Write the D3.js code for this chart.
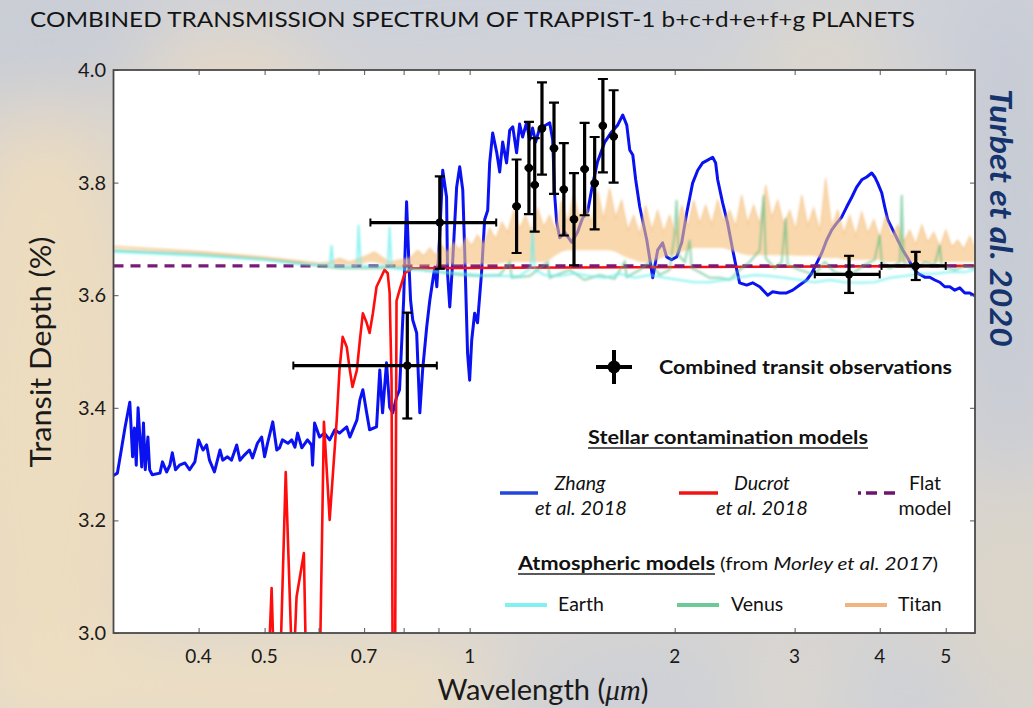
<!DOCTYPE html>
<html>
<head>
<meta charset="utf-8">
<script src="https://cdn.jsdelivr.net/npm/d3@7"></script>
<style>
  html, body { margin: 0; padding: 0; background: #d6d4d2; }
  svg { display: block; }
  text { font-family: Lato, "Open Sans", sans-serif; }
</style>
</head>
<body>
<svg id="chart" width="1033" height="708"></svg>
<script>
// ---------------- data ----------------
// Zhang et al. 2018 stellar contamination model (wavelength in µm, transit depth in %)
const zhangWave = [0.299,0.304,0.308,0.312,0.317,0.320,0.322,0.324,0.326,0.330,
  0.332,0.334,0.337,0.339,0.342,0.351,0.354,0.359,0.363,0.366,
  0.370,0.375,0.382,0.388,0.395,0.400,0.406,0.411,0.415,0.422,
  0.430,0.434,0.441,0.447,0.455,0.460,0.467,0.475,0.480,0.488,
  0.495,0.500,0.505,0.514,0.521,0.526,0.531,0.541,0.548,0.554,
  0.559,0.567,0.578,0.586,0.588,0.592,0.602,0.612,0.623,0.634,
  0.644,0.660,0.667,0.683,0.690,0.697,0.706,0.713,0.730,0.738,
  0.745,0.755,0.763,0.771,0.781,0.789,0.800,0.808,0.814,0.819,
  0.825,0.836,0.845,0.853,0.865,0.874,0.883,0.889,0.895,0.904,
  0.913,0.925,0.928,0.935,0.944,0.957,0.967,0.977,0.983,0.993,
  1.000,1.007,1.017,1.027,1.041,1.052,1.063,1.070,1.081,1.096,
  1.107,1.118,1.133,1.145,1.157,1.172,1.184,1.196,1.212,1.225,
  1.237,1.250,1.267,1.289,1.311,1.324,1.333,1.342,1.356,1.379,
  1.412,1.440,1.465,1.490,1.515,1.541,1.579,1.616,1.649,1.678,
  1.701,1.718,1.736,1.753,1.777,1.820,1.857,1.888,1.920,1.946,
  1.979,2.013,2.048,2.083,2.125,2.162,2.198,2.236,2.274,2.297,
  2.313,2.352,2.392,2.434,2.467,2.491,2.551,2.603,2.666,2.739,
  2.785,2.852,2.920,2.981,3.052,3.125,3.178,3.233,3.288,3.344,
  3.401,3.459,3.518,3.578,3.639,3.700,3.764,3.828,3.893,3.933,
  3.973,4.027,4.068,4.110,4.180,4.251,4.324,4.397,4.472,4.548,
  4.658,4.737,4.818,4.900,4.984,5.069,5.156,5.243,5.333,5.424,
  5.517];
const zhangDepth = [3.279,3.284,3.325,3.366,3.410,3.313,3.364,3.298,3.400,3.295,
  3.373,3.290,3.348,3.290,3.281,3.284,3.304,3.286,3.298,3.320,
  3.290,3.298,3.302,3.290,3.304,3.343,3.325,3.334,3.307,3.286,
  3.325,3.307,3.313,3.307,3.334,3.307,3.316,3.325,3.311,3.337,
  3.348,3.313,3.337,3.375,3.325,3.329,3.343,3.337,3.343,3.330,
  3.355,3.329,3.343,3.334,3.298,3.373,3.348,3.355,3.343,3.361,
  3.355,3.366,3.348,3.378,3.414,3.432,3.391,3.361,3.366,3.467,
  3.391,3.480,3.401,3.391,3.419,3.432,3.591,3.766,3.663,3.591,
  3.556,3.533,3.391,3.467,3.544,3.591,3.627,3.650,3.615,3.710,
  3.822,3.774,3.639,3.579,3.657,3.792,3.828,3.787,3.686,3.497,
  3.449,3.520,3.568,3.551,3.639,3.734,3.751,3.835,3.888,3.853,
  3.819,3.872,3.835,3.893,3.899,3.853,3.904,3.881,3.906,3.876,
  3.897,3.872,3.897,3.901,3.906,3.876,3.778,3.730,3.702,3.712,
  3.694,3.712,3.737,3.748,3.796,3.837,3.872,3.890,3.902,3.920,
  3.902,3.858,3.849,3.805,3.757,3.698,3.631,3.680,3.693,3.668,
  3.663,3.668,3.693,3.746,3.799,3.822,3.835,3.840,3.845,3.835,
  3.805,3.764,3.728,3.680,3.645,3.622,3.618,3.622,3.615,3.600,
  3.606,3.604,3.604,3.609,3.618,3.627,3.639,3.657,3.675,3.698,
  3.716,3.728,3.739,3.757,3.774,3.792,3.805,3.810,3.817,3.810,
  3.799,3.782,3.757,3.734,3.716,3.698,3.680,3.666,3.650,3.639,
  3.632,3.632,3.627,3.623,3.615,3.615,3.609,3.613,3.604,3.604,
  3.599];

// Ducrot et al. 2018 stellar contamination model (values below 3.0 run off the axis)
const ducrotWave = [0.500,0.507,0.512,0.517,0.526,0.537,0.550,0.557,0.571,0.576,
  0.602,0.611,0.623,0.638,0.644,0.651,0.660,0.667,0.673,0.683,
  0.690,0.697,0.706,0.713,0.721,0.730,0.738,0.750,0.758,0.763,
  0.768,0.771,0.777,0.781,0.789,0.803,0.825,5.520];
const ducrotDepth = [2.90,2.95,3.080,2.90,2.90,3.286,2.90,3.064,3.142,2.90,
  2.90,3.375,3.201,3.378,3.467,3.526,3.508,3.467,3.437,3.467,
  3.520,3.568,3.551,3.533,3.568,3.615,3.627,3.645,3.639,3.604,
  3.449,2.90,2.90,3.590,3.609,3.639,3.648,3.652];

// flat (featureless) model
const flatWave = [0.30, 5.52];
const flatDepth = [3.652, 3.652];

// Atmospheric models (Morley et al. 2017): Titan shown as a spiky band (low / high)
const titanWave = [0.300,0.400,0.500,0.563,0.602,0.623,0.644,0.667,0.690,0.708,
  0.725,0.743,0.763,0.789,0.817,0.839,0.856,0.874,0.892,0.910,
  0.928,0.947,0.967,0.987,1.007,1.027,1.048,1.070,1.092,1.115,
  1.137,1.161,1.184,1.208,1.233,1.258,1.284,1.311,1.338,1.365,
  1.393,1.421,1.450,1.480,1.510,1.541,1.573,1.605,1.638,1.672,
  1.707,1.741,1.777,1.813,1.851,1.888,1.927,1.966,2.006,2.048,
  2.090,2.133,2.176,2.221,2.266,2.313,2.360,2.409,2.458,2.508,
  2.559,2.612,2.666,2.721,2.776,2.833,2.891,2.951,3.011,3.073,
  3.136,3.200,3.266,3.332,3.401,3.471,3.542,3.614,3.688,3.764,
  3.841,3.920,4.000,4.082,4.166,4.251,4.338,4.427,4.519,4.611,
  4.706,4.802,4.900,5.001,5.103,5.209,5.315,5.424,5.520];
const titanLow = [3.684,3.675,3.664,3.657,3.654,3.654,3.654,3.654,3.654,3.659,
  3.659,3.655,3.652,3.652,3.652,3.652,3.652,3.652,3.652,3.654,
  3.654,3.654,3.654,3.655,3.655,3.655,3.655,3.655,3.655,3.657,
  3.659,3.659,3.659,3.659,3.659,3.659,3.659,3.663,3.671,3.677,
  3.680,3.680,3.680,3.680,3.680,3.680,3.680,3.680,3.677,3.671,
  3.666,3.663,3.659,3.659,3.659,3.663,3.668,3.671,3.671,3.677,
  3.680,3.684,3.684,3.684,3.684,3.684,3.684,3.680,3.677,3.673,
  3.671,3.671,3.671,3.671,3.671,3.671,3.671,3.671,3.670,3.670,
  3.670,3.670,3.666,3.666,3.666,3.666,3.663,3.663,3.663,3.663,
  3.663,3.663,3.663,3.659,3.659,3.659,3.659,3.659,3.659,3.659,
  3.659,3.659,3.659,3.659,3.659,3.659,3.659,3.659,3.659];
const titanHigh = [3.687,3.678,3.668,3.661,3.657,3.659,3.666,3.659,3.666,3.671,
  3.677,3.668,3.659,3.663,3.666,3.680,3.670,3.684,3.671,3.689,
  3.676,3.694,3.680,3.702,3.688,3.707,3.690,3.719,3.700,3.730,
  3.712,3.751,3.718,3.742,3.712,3.755,3.722,3.742,3.715,3.769,
  3.730,3.778,3.738,3.760,3.728,3.786,3.735,3.790,3.738,3.769,
  3.716,3.742,3.708,3.760,3.716,3.751,3.712,3.742,3.708,3.760,
  3.722,3.769,3.728,3.760,3.726,3.769,3.732,3.751,3.722,3.778,
  3.728,3.760,3.726,3.796,3.738,3.769,3.726,3.751,3.716,3.778,
  3.724,3.755,3.714,3.808,3.720,3.751,3.710,3.742,3.706,3.748,
  3.710,3.734,3.702,3.742,3.704,3.725,3.695,3.716,3.690,3.725,
  3.694,3.712,3.686,3.716,3.686,3.698,3.682,3.705,3.684];

const venusWave = [0.300,0.400,0.500,0.563,0.602,0.644,0.690,0.738,0.789,0.845,
  0.904,0.967,1.034,1.107,1.145,1.153,1.225,1.302,1.311,1.402,
  1.475,1.552,1.632,1.689,1.701,1.777,1.838,1.901,1.966,1.999,
  2.013,2.027,2.069,2.104,2.118,2.176,2.251,2.328,2.409,2.491,
  2.577,2.666,2.702,2.721,2.804,2.872,2.910,2.930,3.052,3.211,
  3.322,3.436,3.554,3.676,3.802,3.933,4.000,4.027,4.138,4.280,
  4.309,4.338,4.503,4.658,4.818,4.900,4.933,5.156,5.333,5.520];
const venusDepth = [3.680,3.673,3.664,3.657,3.652,3.648,3.648,3.648,3.650,3.645,
  3.641,3.636,3.634,3.636,3.659,3.631,3.634,3.659,3.631,3.645,
  3.627,3.636,3.629,3.659,3.632,3.645,3.659,3.636,3.645,3.707,
  3.769,3.671,3.659,3.698,3.648,3.641,3.631,3.631,3.627,3.645,
  3.659,3.680,3.778,3.666,3.648,3.659,3.737,3.654,3.645,3.636,
  3.659,3.641,3.636,3.641,3.654,3.663,3.707,3.659,3.648,3.659,
  3.778,3.659,3.645,3.659,3.654,3.689,3.652,3.645,3.652,3.648];

const earthWave = [0.300,0.400,0.500,0.563,0.602,0.623,0.627,0.631,0.655,0.683,
  0.687,0.692,0.725,0.758,0.763,0.768,0.803,0.845,0.904,0.967,
  1.034,1.107,1.184,1.229,1.237,1.246,1.289,1.356,1.426,1.500,
  1.579,1.661,1.747,1.838,1.934,2.034,2.140,2.251,2.368,2.491,
  2.621,2.757,2.901,3.052,3.211,3.378,3.554,3.739,3.933,4.138,
  4.353,4.580,4.818,5.069,5.333,5.520];
const earthDepth = [3.677,3.670,3.663,3.655,3.654,3.654,3.689,3.652,3.652,3.652,
  3.725,3.652,3.652,3.652,3.721,3.648,3.645,3.645,3.641,3.639,
  3.636,3.634,3.634,3.648,3.719,3.645,3.636,3.634,3.639,3.634,
  3.631,3.638,3.631,3.636,3.631,3.627,3.623,3.623,3.627,3.632,
  3.636,3.634,3.631,3.627,3.623,3.627,3.623,3.622,3.623,3.631,
  3.634,3.638,3.638,3.641,3.641,3.645];

// Combined transit observations (wavelength, bin edges, depth, 1-sigma error)
const obsWave  = [0.810,0.904,1.172,1.222,1.246,1.277,1.330,1.375,1.423,1.475,1.526,1.569,1.627,3.606,4.518];
const obsWaveLo = [0.551,0.715,1.155,1.204,1.228,1.259,1.311,1.356,1.403,1.454,1.505,1.547,1.604,3.212,4.024];
const obsWaveHi = [0.895,1.094,1.189,1.240,1.264,1.295,1.349,1.394,1.443,1.496,1.547,1.591,1.650,4.000,5.000];
const obsDepth = [3.475,3.729,3.758,3.826,3.796,3.896,3.861,3.788,3.735,3.824,3.799,3.901,3.882,3.637,3.652];
const obsErr   = [0.094,0.082,0.083,0.082,0.083,0.082,0.081,0.082,0.082,0.082,0.082,0.083,0.082,0.033,0.025];

// axis ticks
const xTicks = [0.4,0.5,0.6,0.7,0.8,0.9,1,2,3,4,5];
const xTickLabels = ["0.4","0.5","","0.7","","","1","2","3","4","5"];
const yTicks = [3.0,3.2,3.4,3.6,3.8,4.0];
const yTickLabels = ["3.0","3.2","3.4","3.6","3.8","4.0"];

// ---------------- drawing ----------------
const svg = d3.select("#chart");
const W = 1033, H = 708;
const plot = {left: 113.5, right: 975, top: 70, bottom: 633};

const x = d3.scaleLog().domain([0.3, 5.52]).range([plot.left, plot.right]);
const y = d3.scaleLinear().domain([3.0, 4.0]).range([plot.bottom, plot.top]);

const defs = svg.append("defs");
const haze = defs.append("filter").attr("id", "haze")
  .attr("x", "-50%").attr("y", "-50%").attr("width", "200%").attr("height", "200%");
haze.append("feGaussianBlur").attr("stdDeviation", 38);
const soft = defs.append("filter").attr("id", "soft")
  .attr("x", "-5%").attr("y", "-20%").attr("width", "110%").attr("height", "140%");
soft.append("feGaussianBlur").attr("stdDeviation", 0.9);
defs.append("clipPath").attr("id", "plotClip").append("rect")
  .attr("x", plot.left).attr("y", plot.top)
  .attr("width", plot.right - plot.left).attr("height", plot.bottom - plot.top);

// hazy backdrop
const bg = svg.append("g");
bg.append("rect").attr("width", W).attr("height", H).attr("fill", "#d7d4d1");
const blobs = bg.append("g").attr("filter", "url(#haze)");
[
  {cx: 520, cy: 10,  rx: 620, ry: 70,  c: "#cdd1da"},
  {cx: 40,  cy: 40,  rx: 110, ry: 90,  c: "#c9cdd6"},
  {cx: 230, cy: 80,  rx: 90,  ry: 50,  c: "#e6d9c4"},
  {cx: 820, cy: 45,  rx: 70,  ry: 30,  c: "#e2dac9"},
  {cx: 45,  cy: 430, rx: 110, ry: 330, c: "#ecdcc0"},
  {cx: 260, cy: 690, rx: 330, ry: 55,  c: "#eedfc3"},
  {cx: 760, cy: 695, rx: 300, ry: 45,  c: "#ccd0d8"},
  {cx: 790, cy: 690, rx: 60,  ry: 25,  c: "#e6dccb"},
  {cx: 1010,cy: 220, rx: 60,  ry: 260, c: "#c6cbd6"},
  {cx: 1010,cy: 600, rx: 60,  ry: 120, c: "#dcd5c9"}
].forEach(b => blobs.append("ellipse")
  .attr("cx", b.cx).attr("cy", b.cy).attr("rx", b.rx).attr("ry", b.ry).attr("fill", b.c));

// plot area
svg.append("rect").attr("x", plot.left).attr("y", plot.top)
  .attr("width", plot.right - plot.left).attr("height", plot.bottom - plot.top)
  .attr("fill", "#ffffff");

const zip = (a, b) => a.map((v, i) => [v, b[i]]);
const line = d3.line().x(d => x(d[0])).y(d => y(d[1]));
const area = d3.area().x(d => x(d[0])).y0(d => y(d[1])).y1(d => y(d[2]));

const g = svg.append("g").attr("clip-path", "url(#plotClip)");

// stellar contamination models
g.append("path").datum(zip(zhangWave, zhangDepth)).attr("d", line)
  .attr("fill", "none").attr("stroke", "#0a12f2").attr("stroke-width", 3)
  .attr("stroke-linejoin", "round");
g.append("path").datum(zip(ducrotWave, ducrotDepth)).attr("d", line)
  .attr("fill", "none").attr("stroke", "#ff0d0d").attr("stroke-width", 2.6)
  .attr("stroke-linejoin", "round");
g.append("path").datum(zip(flatWave, flatDepth)).attr("d", line)
  .attr("fill", "none").attr("stroke", "#7a1a78").attr("stroke-width", 3.2)
  .attr("stroke-dasharray", "10,7");

// atmospheric models (translucent, drawn over the stellar models)
const atm = g.append("g").attr("filter", "url(#soft)");
const titanData = titanWave.map((w, i) => [w, titanLow[i], titanHigh[i]]);
atm.append("path").datum(titanData).attr("d", area)
  .attr("fill", "#f6c07a").attr("fill-opacity", 0.62).attr("stroke", "none");
atm.append("path").datum(zip(titanWave, titanHigh)).attr("d", line)
  .attr("fill", "none").attr("stroke", "#f3b46a").attr("stroke-width", 1.2).attr("stroke-opacity", 0.5);
atm.append("path").datum(zip(venusWave, venusDepth)).attr("d", line)
  .attr("fill", "none").attr("stroke", "#4fbc80").attr("stroke-width", 2).attr("stroke-opacity", 0.62);
atm.append("path").datum(zip(earthWave, earthDepth)).attr("d", line)
  .attr("fill", "none").attr("stroke", "#5fecec").attr("stroke-width", 2).attr("stroke-opacity", 0.7);

// observations with error bars
const obs = obsWave.map((w, i) => ({w, lo: obsWaveLo[i], hi: obsWaveHi[i], d: obsDepth[i], e: obsErr[i]}));
const og = g.append("g").attr("stroke", "#000").attr("fill", "#000");
obs.forEach(o => {
  const cx = x(o.w), cy = y(o.d), yt = y(o.d + o.e), yb = y(o.d - o.e);
  const xl = x(o.lo), xr = x(o.hi);
  og.append("line").attr("x1", xl).attr("x2", xr).attr("y1", cy).attr("y2", cy).attr("stroke-width", 3.2);
  og.append("line").attr("x1", cx).attr("x2", cx).attr("y1", yt).attr("y2", yb).attr("stroke-width", 3.2);
  [yt, yb].forEach(yy => og.append("line").attr("x1", cx - 5).attr("x2", cx + 5)
    .attr("y1", yy).attr("y2", yy).attr("stroke-width", 2.2));
  if (xr - xl > 30) {
    [xl, xr].forEach(xx => og.append("line").attr("x1", xx).attr("x2", xx)
      .attr("y1", cy - 4).attr("y2", cy + 4).attr("stroke-width", 2));
  }
  og.append("circle").attr("cx", cx).attr("cy", cy).attr("r", 4.2).attr("stroke", "none");
});

// frame and ticks
const tickColor = "#555";
const ax = svg.append("g");
ax.append("g").attr("transform", `translate(0,${plot.bottom})`)
  .call(d3.axisBottom(x).tickValues(xTicks).tickSize(-5).tickFormat(""));
ax.append("g").attr("transform", `translate(0,${plot.top})`)
  .call(d3.axisTop(x).tickValues(xTicks).tickSize(-5).tickFormat(""));
ax.append("g").attr("transform", `translate(${plot.left},0)`)
  .call(d3.axisLeft(y).tickValues(yTicks).tickSize(-5).tickFormat(""));
ax.append("g").attr("transform", `translate(${plot.right},0)`)
  .call(d3.axisRight(y).tickValues(yTicks).tickSize(-5).tickFormat(""));
ax.selectAll(".domain").remove();
ax.selectAll(".tick line").attr("stroke", tickColor).attr("stroke-width", 1);
svg.append("rect").attr("x", plot.left).attr("y", plot.top)
  .attr("width", plot.right - plot.left).attr("height", plot.bottom - plot.top)
  .attr("fill", "none").attr("stroke", "#4a4a4a").attr("stroke-width", 1.8);

// tick labels
svg.append("g").selectAll("text").data(xTicks).join("text")
  .attr("x", d => x(d)).attr("y", 663).attr("text-anchor", "middle")
  .attr("font-size", 19).attr("fill", "#1a1a1a")
  .text((d, i) => xTickLabels[i]);
svg.append("g").selectAll("text").data(yTicks).join("text")
  .attr("x", 106).attr("y", d => y(d) + 7).attr("text-anchor", "end")
  .attr("font-size", 20).attr("fill", "#1a1a1a")
  .text((d, i) => yTickLabels[i]);

// axis titles
const xt = svg.append("text").attr("x", 543).attr("y", 700).attr("text-anchor", "middle")
  .attr("font-size", 29).attr("fill", "#1a1a1a");
xt.append("tspan").text("Wavelength (");
xt.append("tspan").attr("font-family", "'Liberation Serif', 'DejaVu Serif', serif")
  .attr("font-style", "italic").text("μm");
xt.append("tspan").text(")");

svg.append("text").attr("transform", "translate(51,352) rotate(-90)")
  .attr("text-anchor", "middle").attr("font-size", 28).attr("fill", "#1a1a1a")
  .attr("textLength", 231).attr("lengthAdjust", "spacingAndGlyphs")
  .text("Transit Depth (%)");

// title
svg.append("text").attr("x", 30).attr("y", 27).attr("font-size", 22).attr("fill", "#141414")
  .attr("textLength", 885).attr("lengthAdjust", "spacingAndGlyphs")
  .text("COMBINED TRANSMISSION SPECTRUM OF TRAPPIST-1 b+c+d+e+f+g PLANETS");

// side credit
svg.append("text").attr("transform", "translate(990,218) rotate(90)")
  .attr("text-anchor", "middle").attr("font-size", 30).attr("font-weight", "bold")
  .attr("font-style", "italic").attr("fill", "#15346e")
  .attr("textLength", 258).attr("lengthAdjust", "spacingAndGlyphs")
  .text("Turbet et al. 2020");

// ---------------- legend ----------------
const lg = svg.append("g").attr("fill", "#111");
// observation marker
lg.append("line").attr("x1", 596).attr("x2", 632).attr("y1", 367).attr("y2", 367)
  .attr("stroke", "#000").attr("stroke-width", 4);
lg.append("line").attr("x1", 614).attr("x2", 614).attr("y1", 350).attr("y2", 384)
  .attr("stroke", "#000").attr("stroke-width", 4);
lg.append("circle").attr("cx", 614).attr("cy", 367).attr("r", 6.5).attr("fill", "#000");
lg.append("text").attr("x", 659).attr("y", 374).attr("font-size", 18).attr("font-weight", "bold")
  .attr("textLength", 293).attr("lengthAdjust", "spacingAndGlyphs")
  .text("Combined transit observations");

// stellar contamination header
lg.append("text").attr("x", 588).attr("y", 444).attr("font-size", 18).attr("font-weight", "bold")
  .attr("textLength", 280).attr("lengthAdjust", "spacingAndGlyphs")
  .text("Stellar contamination models");
lg.append("line").attr("x1", 588).attr("x2", 868).attr("y1", 448).attr("y2", 448)
  .attr("stroke", "#222").attr("stroke-width", 1.3);

const legendLine = (x1, x2, yy, color, w, dash) => {
  const l = lg.append("line").attr("x1", x1).attr("x2", x2).attr("y1", yy).attr("y2", yy)
    .attr("stroke", color).attr("stroke-width", w);
  if (dash) l.attr("stroke-dasharray", dash);
};
const legendText = (tx, ty, str, italic, len) => {
  const t = lg.append("text").attr("x", tx).attr("y", ty).attr("font-size", 19.5).text(str);
  if (italic) t.attr("font-style", "italic");
  if (len) t.attr("textLength", len).attr("lengthAdjust", "spacingAndGlyphs");
  return t;
};
legendLine(500, 538, 493, "#2347da", 3.5);
legendText(580, 490, "Zhang", true).attr("text-anchor", "middle");
legendText(581, 515, "et al. 2018", true, 92).attr("text-anchor", "middle");
legendLine(679, 718, 493, "#f01414", 3.5);
legendText(762, 490, "Ducrot", true).attr("text-anchor", "middle");
legendText(762, 515, "et al. 2018", true, 92).attr("text-anchor", "middle");
legendLine(858, 897, 493, "#6e1470", 3.5, "3,5,11,7,11");
legendText(925, 490, "Flat").attr("text-anchor", "middle");
legendText(925, 515, "model").attr("text-anchor", "middle");

// atmospheric header
lg.append("text").attr("x", 518).attr("y", 570).attr("font-size", 18).attr("font-weight", "bold")
  .attr("textLength", 197).attr("lengthAdjust", "spacingAndGlyphs")
  .text("Atmospheric models");
lg.append("line").attr("x1", 518).attr("x2", 715).attr("y1", 574).attr("y2", 574)
  .attr("stroke", "#222").attr("stroke-width", 1.3);
const from = lg.append("text").attr("x", 720).attr("y", 570).attr("font-size", 17)
  .attr("textLength", 218).attr("lengthAdjust", "spacingAndGlyphs");
from.append("tspan").text("(from ");
from.append("tspan").attr("font-style", "italic").text("Morley et al. 2017");
from.append("tspan").text(")");

legendLine(505, 547, 605, "#80f0f0", 4);
legendText(558, 611, "Earth");
legendLine(677, 719, 605, "#6cca96", 4);
legendText(731, 611, "Venus");
legendLine(845, 887, 605, "#f2b47e", 4);
legendText(898, 611, "Titan");
</script>
</body>
</html>
